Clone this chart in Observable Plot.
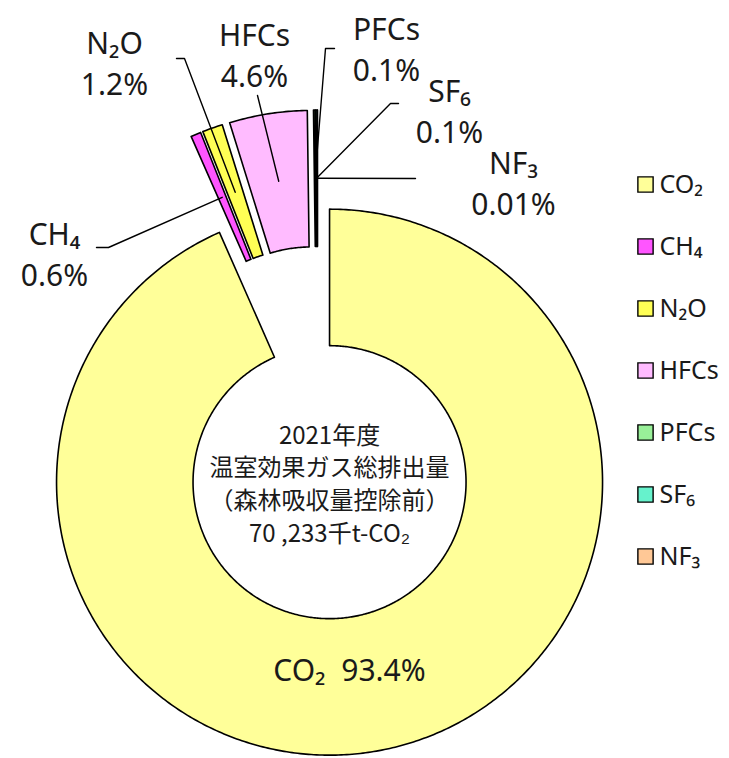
<!DOCTYPE html>
<html>
<head>
<meta charset="utf-8">
<script src="https://cdn.jsdelivr.net/npm/d3@7"></script>
<script src="https://cdn.jsdelivr.net/npm/@observablehq/plot@0.6"></script>
<style>
  html, body { margin: 0; padding: 0; background: #fff; }
  #wrap { position: relative; width: 729px; height: 758px; overflow: hidden; }
  #legend { position: absolute; left: 620px; top: 0; }
</style>
</head>
<body>
<div id="wrap"><div id="chart"></div><div id="legend"></div></div>
<script>
// ---- data ----
const gases = ["CO₂", "CH₄", "N₂O", "HFCs", "PFCs", "SF₆", "NF₃"];
const shares = [93.4, 0.6, 1.2, 4.6, 0.1, 0.1, 0.01];
const shareLabels = ["93.4%", "0.6%", "1.2%", "4.6%", "0.1%", "0.1%", "0.01%"];
const centerLines = ["2021年度", "温室効果ガス総排出量", "（森林吸収量控除前）", "70 ,233千t-CO₂"];

// ---- style / layout ----
const colors = ["#FFFF99", "#FF55FF", "#FFFF55", "#FFBBFF", "#99F099", "#66F2CC", "#FFC896"];
const W = 729, H = 758, CX = 317, CY = 424.5, R = 273;
const innerR = 0.5;
const explodeBy = [0.214, 0.154, 0.154, 0.154, 0.154, 0.154, 0.154];
const px = x => (x - CX) / R, py = y => (CY - y) / R;
// label block centres (pixels) and leader-line start points (pixels)
const labelPos = {
  "CO₂": [349, 667], "CH₄": [54, 252], "N₂O": [114, 61], "HFCs": [254, 53],
  "PFCs": [386, 47], "SF₆": [449, 109], "NF₃": [513, 181]
};
const leaderStart = {
  "CH₄": [[96, 247], [108, 247]], "N₂O": [[176, 58], [184, 58]], "HFCs": [[257, 95]],
  "PFCs": [[334, 48], [325, 48]], "SF₆": [[398, 103], [390, 103]], "NF₃": [[415, 178]]
};

// ---- geometry from data ----
const rows = gases.map((g, i) => ({gas: g, share: shares[i], label: shareLabels[i], explode: explodeBy[i]}));
const arcs = d3.pie().sort(null).value(d => d.share).startAngle(0).endAngle(2 * Math.PI)(rows);
const polar = (r, a) => [r * Math.sin(a), r * Math.cos(a)];
const slicePts = [];
const centroids = {};
const offsets = {};
for (const a of arcs) {
  const mid = (a.startAngle + a.endAngle) / 2;
  const [ox, oy] = polar(a.data.explode, mid);
  offsets[a.data.gas] = [ox, oy];
  const n = Math.max(2, Math.ceil((a.endAngle - a.startAngle) / 0.01));
  const pts = [];
  for (let k = 0; k <= n; k++) pts.push(polar(1, a.startAngle + (a.endAngle - a.startAngle) * k / n));
  for (let k = n; k >= 0; k--) pts.push(polar(innerR, a.startAngle + (a.endAngle - a.startAngle) * k / n));
  for (const [x, y] of pts) slicePts.push({gas: a.data.gas, x: x + ox, y: y + oy});
  const [cx, cy] = polar((1 + innerR) / 2, mid);
  centroids[a.data.gas] = [cx + ox, cy + oy];
}
const leaders = [];
for (const g of Object.keys(leaderStart)) {
  for (const [x, y] of leaderStart[g]) leaders.push({gas: g, x: px(x), y: py(y)});
  leaders.push({gas: g, x: centroids[g][0], y: centroids[g][1]});
}
const labels = rows.map(d => ({
  text: d.gas === "CO₂" ? `${d.gas}  ${d.label}` : `${d.gas}\n${d.label}`,
  x: px(labelPos[d.gas][0]), y: py(labelPos[d.gas][1])
}));
const center = [{text: centerLines.join("\n"), x: offsets["CO₂"][0], y: offsets["CO₂"][1]}];

const chart = Plot.plot({
  width: W, height: H, margin: 0,
  x: {domain: [px(0), px(W)], axis: null},
  y: {domain: [py(H), py(0)], axis: null},
  color: {domain: gases, range: colors},
  style: {fontFamily: "'Noto Sans', sans-serif", background: "#fff"},
  marks: [
    Plot.line(slicePts, {x: "x", y: "y", z: "gas", fill: "gas", stroke: "#000", strokeWidth: 1.6, curve: "linear-closed"}),
    Plot.line(leaders, {x: "x", y: "y", z: "gas", stroke: "#000", strokeWidth: 1.4}),
    Plot.text(labels, {x: "x", y: "y", text: "text", fontSize: 30, lineHeight: 1.38, fill: "#1a1a1a"}),
    Plot.text(center, {x: "x", y: "y", text: "text", fontSize: 24, lineHeight: 1.36, fill: "#1a1a1a", fontFamily: "'Noto Sans CJK JP', sans-serif"})
  ]
});
document.getElementById("chart").appendChild(chart);

const legend = Plot.plot({
  width: 109, height: H, margin: 0,
  x: {domain: [0, 1], range: [25, 39], axis: null},
  y: {type: "point", domain: gases, range: [153, 587], axis: null},
  color: {domain: gases, range: colors},
  style: {fontFamily: "'Noto Sans', sans-serif", background: "transparent"},
  marks: [
    Plot.dot(gases, {x: () => 0, y: d => d, fill: d => d, symbol: "square", r: 8.6, stroke: "#000", strokeWidth: 1.4}),
    Plot.text(gases, {x: () => 1, y: d => d, text: d => d, textAnchor: "start", fontSize: 25, fill: "#1a1a1a"})
  ]
});
document.getElementById("legend").appendChild(legend);
</script>
</body>
</html>
